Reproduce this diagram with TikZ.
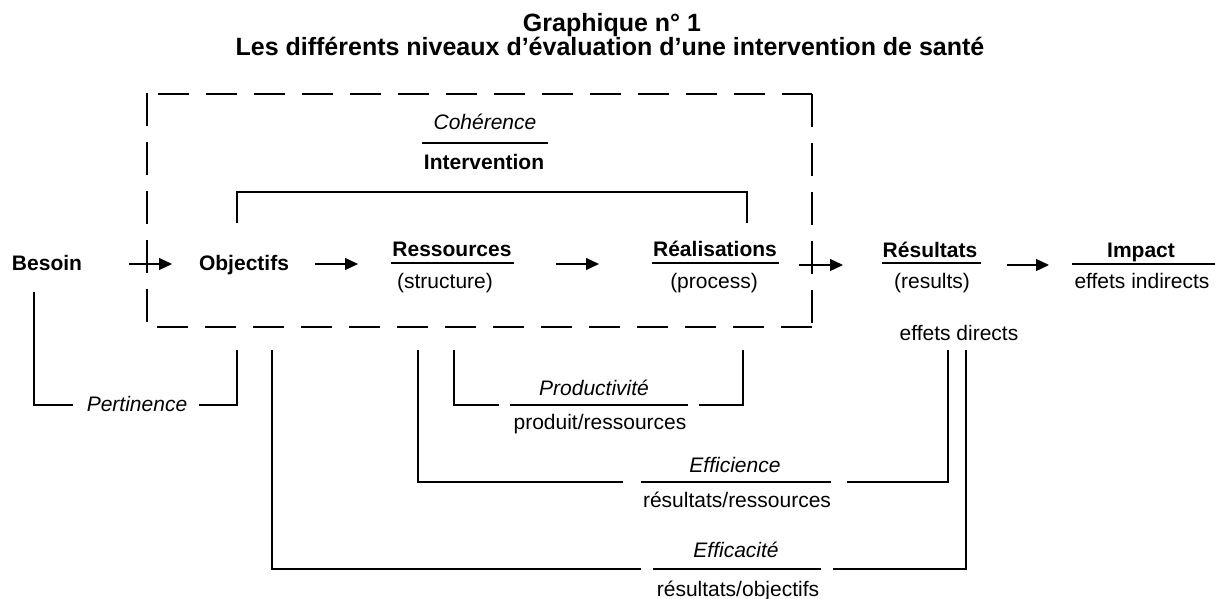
\documentclass[tikz,border=0pt]{standalone}
\usepackage{fontspec}
\setmainfont{Liberation Sans}
\usetikzlibrary{arrows.meta}
\tikzset{
  txt/.style={inner sep=0pt, anchor=base, font=\fontsize{21}{25}\selectfont},
  btxt/.style={txt, font=\fontsize{21}{25}\selectfont\bfseries},
  itxt/.style={txt, font=\fontsize{21}{25}\selectfont\itshape},
  ttl/.style={inner sep=0pt, anchor=base, font=\fontsize{25}{25}\selectfont\bfseries},
  bracket/.style={line width=2pt, line cap=rect},
  fracline/.style={line width=1.1pt},
  arr/.style={line width=1.3pt, -{Triangle[length=13pt,width=12pt]}},
  hdash/.style={line width=2pt, dash pattern=on 31pt off 17pt},
  vdash/.style={line width=2pt, dash pattern=on 33pt off 16pt}
}
\begin{document}
\begin{tikzpicture}[x=1pt,y=-1pt]
\useasboundingbox (0,0) rectangle (1215,599);
% title
\node[ttl] (t1) at (612,32) {Graphique n° 1};
\node[ttl] (t2) at (610,56) {Les différents niveaux d’évaluation d’une intervention de santé};
% dashed box
\coordinate (bx1) at (158,94); \coordinate (bx2) at (812,94);
\coordinate (bx3) at (812,327); \coordinate (bx4) at (147,327);
\coordinate (bx5) at (147,93);
\draw[hdash] (bx1) -- (bx2);
\draw[vdash] (bx2) -- (bx3);
\draw[hdash] (bx3) -- (bx4);
\draw[vdash] (bx5) -- (bx4);
% Cohérence / Intervention
\node[itxt] (coh) at (485,130) {Cohérence};
\draw[fracline] (422,143) -- (548,143);
\node[btxt] (interv) at (484,169) {Intervention};
\draw[bracket] (237,222) -- (237,192) -- (747,192) -- (747,222);
% main row
\node[btxt] (besoin) at (47,270) {Besoin};
\node[btxt] (obj) at (244,270) {Objectifs};
\node[btxt] (res) at (452,256) {Ressources};
\draw[fracline] (391,263) -- (514,263);
\node[txt] (struct) at (445,288) {(structure)};
\node[btxt] (real) at (715,256) {Réalisations};
\draw[fracline] (652,263) -- (779,263);
\node[txt] (proc) at (714,288) {(process)};
\node[btxt] (resu) at (930,257) {Résultats};
\draw[fracline] (882,263) -- (981,263);
\node[txt] (results) at (932,288) {(results)};
\node[btxt] (impact) at (1141,257) {Impact};
\draw[fracline] (1072,264) -- (1215,264);
\node[txt] (indir) at (1142,288) {effets indirects};
\node[txt] (dir) at (959,340) {effets directs};
% arrows
\coordinate (a1s) at (129,264); \coordinate (a1e) at (172,264);
\coordinate (a2s) at (315,264); \coordinate (a2e) at (358,264);
\coordinate (a3s) at (556,264); \coordinate (a3e) at (599,264);
\coordinate (a4s) at (799,265); \coordinate (a4e) at (843,265);
\coordinate (a5s) at (1007,265); \coordinate (a5e) at (1049,265);
\draw[arr] (a1s) -- (a1e);
\draw[arr] (a2s) -- (a2e);
\draw[arr] (a3s) -- (a3e);
\draw[arr] (a4s) -- (a4e);
\draw[arr] (a5s) -- (a5e);
% Pertinence
\node[itxt] (pert) at (137,411) {Pertinence};
\draw[bracket] (34,293) -- (34,405) -- (72,405);
\draw[bracket] (200,405) -- (237,405) -- (237,351);
% Productivité
\node[itxt] (prod) at (594,395) {Productivité};
\draw[fracline] (510,405) -- (688,405);
\node[txt] (prodr) at (600,429) {produit/ressources};
\draw[bracket] (454,351) -- (454,405) -- (498,405);
\draw[bracket] (700,405) -- (743,405) -- (743,351);
% Efficience
\node[itxt] (effi) at (735,472) {Efficience};
\draw[fracline] (641,482) -- (831,482);
\node[txt] (effir) at (737,507) {résultats/ressources};
\draw[bracket] (418,351) -- (418,482) -- (622,482);
\draw[bracket] (848,482) -- (948,482) -- (948,351);
% Efficacité
\node[itxt] (effa) at (736,557) {Efficacité};
\draw[fracline] (653,569) -- (821,569);
\node[txt] (effar) at (738,596) {résultats/objectifs};
\draw[bracket] (272,351) -- (272,569) -- (640,569);
\draw[bracket] (834,569) -- (966,569) -- (966,351);
\end{tikzpicture}
\end{document}
